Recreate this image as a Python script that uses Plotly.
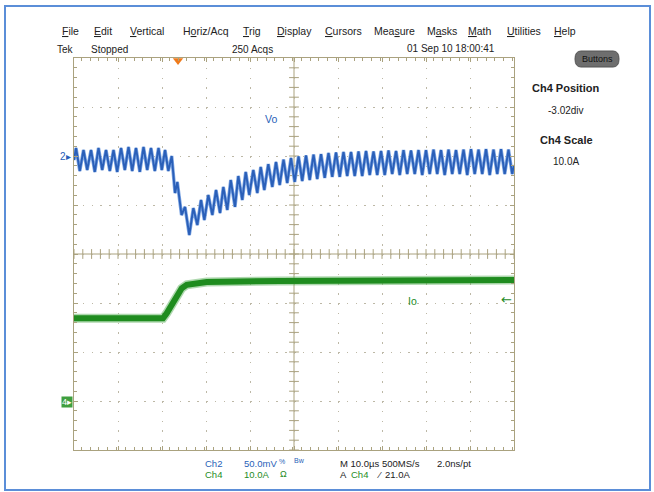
import numpy as np
import plotly.graph_objects as go

# ---------------- data ----------------
# Ch2 (Vo, AC ripple) : vertex times in microseconds (trigger = 0) and deviation in mV
VO_T_US = [-23.64, -23.18, -22.32, -21.48, -20.64, -19.77, -18.91, -18.07, -17.23, -16.36,
           -15.5, -14.66, -13.82, -12.95, -12.09, -11.25, -10.41, -9.55, -8.68, -7.84,
           -7.0, -6.14, -5.27, -4.43, -3.68, -2.95, -2.2, -1.43, -0.68, -0.16,
           0.8, 1.59, 2.57, 3.48, 4.39, 5.23, 5.98, 6.89, 7.8, 8.64,
           9.55, 10.3, 11.2, 11.98, 12.95, 13.7, 14.61, 15.39, 16.2, 17.11,
           18.02, 18.8, 19.61, 20.52, 21.43, 22.27, 23.11, 23.98, 24.82, 25.68,
           26.52, 27.39, 28.23, 29.09, 29.93, 30.8, 31.64, 32.5, 33.34, 34.2,
           35.05, 35.91, 36.75, 37.61, 38.45, 39.32, 40.16, 41.02, 41.86, 42.73,
           43.57, 44.43, 45.27, 46.14, 46.98, 47.84, 48.68, 49.55, 50.39, 51.25,
           52.09, 52.95, 53.8, 54.66, 55.5, 56.36, 57.2, 58.07, 58.91, 59.77,
           60.61, 61.48, 62.32, 63.18, 64.02, 64.89, 65.73, 66.59, 67.43, 68.3,
           69.14, 70.0, 70.84, 71.7, 72.55, 73.41, 74.25, 75.11, 75.95, 76.36]
VO_MV = [-4.1, 8.2, -15.3, 6.1, -14.3, 6.1, -16.3, 8.2, -14.3, 6.1,
         -15.3, 6.1, -16.3, 8.2, -14.3, 9.2, -15.3, 8.2, -16.3, 9.2,
         -14.3, 8.2, -15.3, 8.2, -14.3, 6.1, -15.3, 0.0, -37.8, -26.5,
         -60.2, -52.0, -80.6, -53.1, -70.4, -44.9, -65.3, -39.8, -60.2, -34.7,
         -58.2, -31.6, -55.1, -24.5, -52.0, -20.4, -44.9, -16.3, -39.8, -14.3,
         -37.8, -11.2, -34.7, -8.2, -31.6, -6.1, -29.6, -3.6, -27.6, -2.0,
         -26.5, -0.5, -25.5, 0.5, -24.5, 1.5, -23.5, 2.0, -22.4, 3.1,
         -21.4, 3.6, -21.4, 4.1, -20.4, 4.1, -20.4, 4.6, -20.4, 5.1,
         -19.4, 4.6, -19.4, 5.1, -19.4, 5.6, -18.4, 5.1, -19.4, 6.1,
         -18.4, 5.6, -18.4, 6.1, -19.4, 6.1, -18.4, 6.6, -18.4, 6.1,
         -19.4, 6.6, -18.4, 6.1, -18.4, 6.6, -19.4, 7.1, -18.4, 6.6,
         -18.4, 7.1, -19.4, 6.6, -18.4, 7.1, -18.4, 6.6, -18.4, -9.2]

# Ch4 (Io) : times in microseconds and current in A
IO_T_US = [-23.64, -3.41, -2.57, -1.43, -0.30, 0.84, 1.98, 4.25, 6.52, 23.18, 76.36]
IO_A = [17.1, 17.1, 18.1, 19.8, 21.8, 23.2, 23.9, 24.2, 24.5, 24.7, 24.9]

CH2_SCALE_MV = 50.0      # mV / div
CH2_POS_DIV = 2.0
CH4_SCALE_A = 10.0       # A / div
CH4_POS_DIV = -3.02
TRIG_LEVEL_A = 21.0
TRIG_T_US = 0.0
T_LEFT_US = -23.64
T_DIV_US = 10.0
N_XDIV, N_YDIV = 10, 8

# ---------------- geometry / style ----------------
W, H = 654, 492
L, R, T, B = 74, 514, 58, 450          # plot area in pixels
def px(x):
    return (x - L) / (R - L)
def py(y):
    return (B - y) / (B - T)

FRAME = "#aaa27f"
GRID = "#bdb8a6"
BLUE = "#2a5fb8"
GREEN = "#1f8c1f"
NARROW = "Liberation Sans, Arial, sans-serif"
SANS = "Liberation Sans, Arial, sans-serif"

t_right = T_LEFT_US + N_XDIV * T_DIV_US
t_center = T_LEFT_US + N_XDIV * T_DIV_US / 2

vo_div = [CH2_POS_DIV + v / CH2_SCALE_MV for v in VO_MV]
io_div = [CH4_POS_DIV + a / CH4_SCALE_A for a in IO_A]

fig = go.Figure()

# centre graticule ticks
xt = np.arange(T_LEFT_US, t_right + 1e-6, T_DIV_US / 5)
yt = np.arange(-N_YDIV / 2, N_YDIV / 2 + 1e-6, 0.2)
fig.add_trace(go.Scatter(x=xt, y=[0] * len(xt), mode="markers", hoverinfo="skip",
                         marker=dict(symbol="line-ns", size=7, line=dict(width=1, color=FRAME)),
                         showlegend=False))
fig.add_trace(go.Scatter(x=[t_center] * len(yt), y=yt, mode="markers", hoverinfo="skip",
                         marker=dict(symbol="line-ew", size=7, line=dict(width=1, color=FRAME)),
                         showlegend=False))

# Io trace (thick, noisy band look)
fig.add_trace(go.Scatter(x=IO_T_US, y=io_div, mode="lines", line=dict(color="#5fb35f", width=9),
                         opacity=0.5, showlegend=False, hoverinfo="skip"))
fig.add_trace(go.Scatter(x=IO_T_US, y=io_div, mode="lines", line=dict(color=GREEN, width=6),
                         showlegend=False, name="Io"))

# Vo trace
fig.add_trace(go.Scatter(x=VO_T_US, y=vo_div, mode="lines", line=dict(color="#7ea6e3", width=3.4),
                         showlegend=False, hoverinfo="skip"))
fig.add_trace(go.Scatter(x=VO_T_US, y=vo_div, mode="lines", line=dict(color=BLUE, width=1.9),
                         showlegend=False, name="Vo"))

# trigger position marker
fig.add_trace(go.Scatter(x=[TRIG_T_US], y=[N_YDIV / 2 - 0.05], mode="markers", cliponaxis=False,
                         marker=dict(symbol="triangle-down", size=9, color="#f07a1a"),
                         showlegend=False, hoverinfo="skip"))

fig.update_xaxes(range=[T_LEFT_US, t_right], tick0=T_LEFT_US, dtick=T_DIV_US,
                 showgrid=True, gridcolor=GRID, griddash="1.5px,8.3px", gridwidth=1,
                 showline=True, linecolor=FRAME, linewidth=1, mirror="ticks",
                 ticks="inside", ticklen=4, tickcolor=FRAME,
                 minor=dict(dtick=T_DIV_US / 5, ticks="inside", ticklen=3, tickcolor=FRAME, showgrid=False),
                 showticklabels=False, zeroline=False, fixedrange=True)
fig.update_yaxes(range=[-N_YDIV / 2, N_YDIV / 2], tick0=-N_YDIV / 2, dtick=1,
                 showgrid=True, gridcolor=GRID, griddash="1.5px,7.3px", gridwidth=1,
                 showline=True, linecolor=FRAME, linewidth=1, mirror="ticks",
                 ticks="inside", ticklen=4, tickcolor=FRAME,
                 minor=dict(dtick=0.2, ticks="inside", ticklen=3, tickcolor=FRAME, showgrid=False),
                 showticklabels=False, zeroline=False, fixedrange=True)

shapes = [
    # centre cross
    dict(type="line", xref="x", yref="y", x0=T_LEFT_US, x1=t_right, y0=0, y1=0,
         line=dict(color=FRAME, width=1), layer="below"),
    dict(type="line", xref="x", yref="y", x0=t_center, x1=t_center, y0=-N_YDIV / 2, y1=N_YDIV / 2,
         line=dict(color=FRAME, width=1), layer="below"),
    # outer blue window border
    dict(type="rect", xref="paper", yref="paper", x0=px(5), x1=px(650), y0=py(490), y1=py(6),
         line=dict(color="#5b8ed8", width=2), layer="below"),
    # Buttons pill
    dict(type="path", xref="paper", yref="paper",
         path=(f"M {px(581)} {py(51)} L {px(613)} {py(51)} Q {px(619)} {py(51)} {px(619)} {py(59)} "
               f"Q {px(619)} {py(67)} {px(613)} {py(67)} L {px(581)} {py(67)} "
               f"Q {px(575)} {py(67)} {px(575)} {py(59)} Q {px(575)} {py(51)} {px(581)} {py(51)} Z"),
         fillcolor="#6e6e6e", line=dict(color="#555555", width=1)),
]

ann = []
def txt(s, x, y, color="#222222", size=10, family=NARROW, xanchor="left", bgcolor=None):
    d = dict(text=s, x=px(x), y=py(y), xref="paper", yref="paper", showarrow=False,
             xanchor=xanchor, yanchor="middle", font=dict(color=color, size=size, family=family))
    if bgcolor:
        d["bgcolor"] = bgcolor
        d["borderpad"] = 0
    ann.append(d)

menu = [("<u>F</u>ile", 60), ("<u>E</u>dit", 92), ("<u>V</u>ertical", 128), ("H<u>o</u>riz/Acq", 181),
        ("<u>T</u>rig", 241), ("<u>D</u>isplay", 275), ("<u>C</u>ursors", 323), ("Mea<u>s</u>ure", 372),
        ("M<u>a</u>sks", 425), ("<u>M</u>ath", 466), ("<u>U</u>tilities", 505), ("<u>H</u>elp", 552)]
for s, x in menu:
    txt(s, x, 31, size=10.5)

txt("Tek", 55, 50)
txt("Stopped", 89, 50)
txt("250 Acqs", 230, 50)
txt("01 Sep 10 18:00:41", 405, 48)
txt("Buttons", 597, 59, color="#111111", size=9, xanchor="center")

txt("<b>Ch4 Position</b>", 566, 88, size=11, family=SANS, xanchor="center")
txt("-3.02div", 566, 110, size=10, xanchor="center")
txt("<b>Ch4 Scale</b>", 566, 140, size=11, family=SANS, xanchor="center")
txt("10.0A", 566, 161, size=10, xanchor="center")

txt("Vo", 263, 119, color=BLUE, size=10.5)
txt("Io", 406, 301, color=GREEN, size=10.5)

# bottom readouts
txt("Ch2", 203, 463, color=BLUE, size=9.5)
txt("50.0mV", 242, 463, color=BLUE, size=9.5)
txt("%", 277, 462, color=BLUE, size=7)
txt("Bw", 292, 460, color=BLUE, size=7)
txt("M 10.0\u00b5s 500MS/s", 338, 463, size=9.5)
txt("2.0ns/pt", 435, 463, size=9.5)
txt("Ch4", 203, 474, color=GREEN, size=9.5)
txt("10.0A", 242, 474, color=GREEN, size=9.5)
txt("\u03a9", 278, 474, color=GREEN, size=9)
txt("A", 338, 474, size=9.5)
txt("Ch4", 349, 474, color=GREEN, size=9.5)
txt("\u2044", 375, 474, size=9.5)
txt("21.0A", 383, 474, size=9.5)

# channel ground markers and trigger level arrow
ann.append(dict(text="2\u25b8", x=px(73), y=CH2_POS_DIV, xref="paper", yref="y", showarrow=False,
                xanchor="right", yanchor="middle", font=dict(color=BLUE, size=10, family=NARROW)))
ann.append(dict(text="4\u25b8", x=px(73), y=CH4_POS_DIV, xref="paper", yref="y", showarrow=False,
                xanchor="right", yanchor="middle", bgcolor="#3f9f3f", borderpad=0,
                font=dict(color="white", size=9, family=NARROW)))
ann.append(dict(text="\u2190", x=t_right, y=CH4_POS_DIV + TRIG_LEVEL_A / CH4_SCALE_A, xref="x", yref="y",
                showarrow=False, xanchor="right", yanchor="middle",
                font=dict(color=GREEN, size=13, family="DejaVu Sans")))

fig.update_layout(width=W, height=H, margin=dict(l=L, r=W - R, t=T, b=H - B, pad=0),
                  paper_bgcolor="white", plot_bgcolor="white", shapes=shapes, annotations=ann,
                  showlegend=False)

fig.write_html("out.html", config={"displayModeBar": False},
               post_script="document.body.style.margin='0';")
